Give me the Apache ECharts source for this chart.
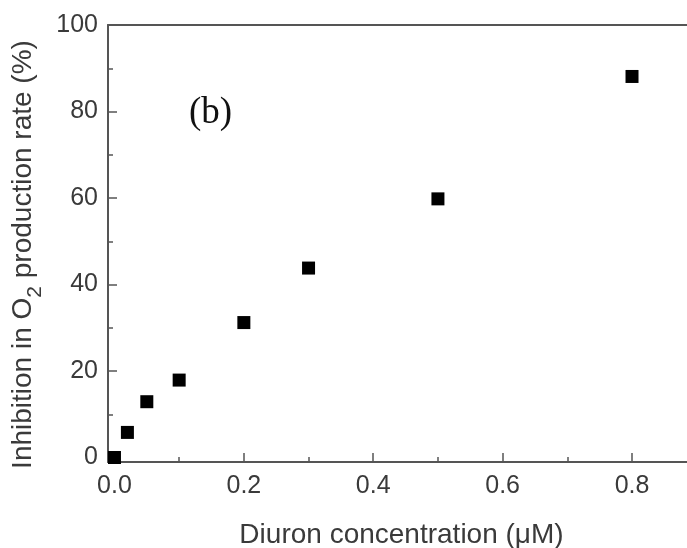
<!DOCTYPE html>
<html><head><meta charset="utf-8">
<script src="https://cdn.jsdelivr.net/npm/echarts@6/dist/echarts.min.js"></script>
<style>html,body{margin:0;padding:0;background:#fff}#c{width:687px;height:548px}</style>
</head><body><div id="c"></div>
<script>
const concentration = [0, 0.02, 0.05, 0.1, 0.2, 0.3, 0.5, 0.8];
const inhibition = [0, 5.8, 12.9, 17.9, 31.2, 43.8, 59.8, 88.1];
const xMajorTicks = [0, 0.2, 0.4, 0.6, 0.8];
const xMinorTicks = [0.1, 0.3, 0.5, 0.7];
const yMajorTicks = [0, 20, 40, 60, 80, 100];
const yMinorTicks = [10, 30, 50, 70, 90];

const chart = echarts.init(document.getElementById('c'));
const axisColor = '#555';
const labelStyle = {color:'#3a3a3a', fontFamily:'Liberation Sans, Arial', fontSize:25};
const titleStyle = {color:'#3a3a3a', fontFamily:'Liberation Sans, Arial', fontSize:28};
const xRange = {min:-0.010, max:0.885};
const yRange = {min:-1.04, max:100};
const hidden = {axisLabel:{show:false}, splitLine:{show:false}};
chart.setOption({
  animation:false,
  grid: {left:108, top:25, right:0, bottom:86, show:false, outerBoundsMode:'none', containLabel:false},
  xAxis: [{
    type:'value', ...xRange, position:'bottom',
    name:'Diuron concentration (\u03bcM)', nameLocation:'middle', nameGap:59,
    nameTextStyle:{...titleStyle, padding:[0,0,0,8]},
    axisLine:{show:true, onZero:false, lineStyle:{color:axisColor, width:2}},
    axisTick:{show:true, inside:true, length:9, customValues:xMajorTicks, lineStyle:{color:axisColor, width:1.5}},
    axisLabel:{show:true, margin:12, customValues:xMajorTicks, formatter:v=>v.toFixed(1), ...labelStyle},
    splitLine:{show:false}
  },{
    type:'value', ...xRange, position:'bottom',
    axisLine:{show:false, onZero:false},
    axisTick:{show:true, inside:true, length:5, customValues:xMinorTicks, lineStyle:{color:axisColor, width:1.5}},
    ...hidden
  },{
    type:'value', ...xRange, position:'top',
    axisLine:{show:true, onZero:false, lineStyle:{color:axisColor, width:2}},
    axisTick:{show:false},
    ...hidden
  }],
  yAxis: [{
    type:'value', ...yRange, position:'left',
    name:'Inhibition in O{sub|2} production rate (%)', nameLocation:'middle', nameGap:60,
    nameTextStyle:{...titleStyle, padding:[0,22,0,0], rich:{sub:{...titleStyle, fontSize:21, verticalAlign:'bottom', padding:[0,0,-8,0]}}},
    axisLine:{show:true, onZero:false, lineStyle:{color:axisColor, width:2}},
    axisTick:{show:true, inside:true, length:9, customValues:yMajorTicks, lineStyle:{color:axisColor, width:1.5}},
    axisLabel:{show:true, margin:10, customValues:yMajorTicks, ...labelStyle},
    splitLine:{show:false}
  },{
    type:'value', ...yRange, position:'left',
    axisLine:{show:false, onZero:false},
    axisTick:{show:true, inside:true, length:5, customValues:yMinorTicks, lineStyle:{color:axisColor, width:1.5}},
    ...hidden
  }],
  series: [{
    type:'scatter', xAxisIndex:0, yAxisIndex:0,
    symbol:'rect', symbolSize:13,
    itemStyle:{color:'#000', opacity:1},
    data: concentration.map((x,i)=>[x, inhibition[i]])
  }],
  graphic: [{
    type:'text', left:189, top:95,
    style:{text:'(b)', font:'37px "Liberation Serif", "DejaVu Serif", serif', fill:'#111'}
  }]
});
</script></body></html>
